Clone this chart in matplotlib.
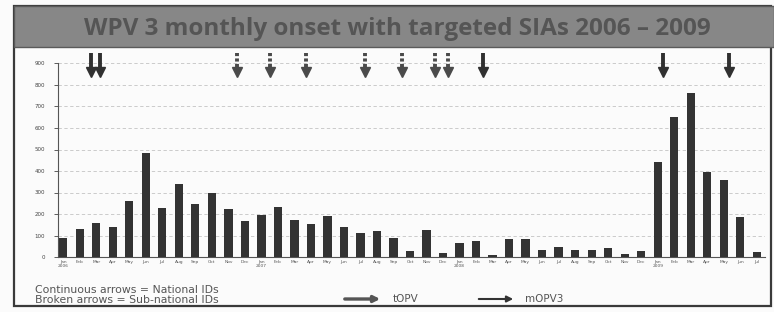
import matplotlib.pyplot as plt
from matplotlib.patches import Rectangle

# WPV3 cases by month of onset, Jan 2006 - Jul 2009
months = ['Jan', 'Feb', 'Mar', 'Apr', 'May', 'Jun',
          'Jul', 'Aug', 'Sep', 'Oct', 'Nov', 'Dec']
years = ['2006', '2007', '2008', '2009']
cases = [90, 132, 160, 138, 259, 482, 226, 340, 248, 298, 223, 166,
         197, 234, 172, 152, 192, 141, 110, 121, 88, 29, 126, 20,
         67, 74, 9, 84, 84, 33, 48, 33, 33, 40, 12, 28,
         442, 653, 761, 397, 358, 185, 23]

# SIA arrows (position in months from Jan 2006)
national_sia = [1.7, 2.2, 25.4, 36.3, 40.3]
subnational_sia = [10.5, 12.5, 14.7, 18.3, 20.5, 22.5, 23.3]

title = 'WPV 3 monthly onset with targeted SIAs 2006 \u2013 2009'
note1 = 'Continuous arrows = National IDs'
note2 = 'Broken arrows = Sub-national IDs'

W, H = 774, 312
fig = plt.figure(figsize=(W / 100, H / 100), dpi=100)
fig.patch.set_facecolor('#fbfbfb')

# frame + grey title band
fig.add_artist(Rectangle((14 / W, 6 / H), 757 / W, 300 / H, transform=fig.transFigure,
                         fill=False, edgecolor='#3a3a3a', lw=1.6))
fig.add_artist(Rectangle((14 / W, (H - 47) / H), 760 / W, 41 / H, transform=fig.transFigure,
                         facecolor='#878787', edgecolor='#5a5a5a', lw=1.0))
fig.text(397 / W, (H - 29) / H, title, ha='center', va='center', fontsize=17.5,
         fontweight='bold', color='#555555', family='Open Sans')

ax = fig.add_axes([57.5 / W, 55 / H, 707.5 / W, 206.4 / H])
ax.set_facecolor('none')
x = list(range(len(cases)))
ax.bar(x, cases, width=0.5, color='#333333', zorder=3)

ax.set_xlim(-0.35, 42.5)
ax.set_ylim(0, 960)
ax.set_yticks(range(0, 1000, 100))
ax.tick_params(axis='y', labelsize=4, length=3, width=0.6, colors='#444444', pad=6)
ax.yaxis.grid(True, color='#c4c4c4', linestyle=(0, (4, 3)), lw=0.6, zorder=0)

labels = []
for i in range(len(cases)):
    m = months[i % 12]
    if i % 12 == 0:
        labels.append(m + '\n' + years[i // 12])
    else:
        labels.append(m)
ax.set_xticks(x)
ax.set_xticklabels(labels, fontsize=3.2, color='#555555', linespacing=1.1)
ax.tick_params(axis='x', length=0, pad=2)

for s in ['top', 'right']:
    ax.spines[s].set_visible(False)
ax.spines['left'].set_bounds(0, 900)
ax.spines['left'].set_color('#555555')
ax.spines['left'].set_linewidth(0.8)
ax.spines['bottom'].set_color('#555555')
ax.spines['bottom'].set_linewidth(0.8)

# arrows at the top
for xs in national_sia:
    ax.plot([xs, xs], [950, 875], color='#303030', lw=2.8, solid_capstyle='butt',
            clip_on=False, zorder=4)
    ax.plot([xs], [862], marker='v', ms=6.5, color='#303030', clip_on=False, zorder=4)
for xs in subnational_sia:
    ax.plot([xs, xs], [950, 875], color='#4a4a4a', lw=2.8, linestyle=(0, (0.8, 0.6)),
            solid_capstyle='butt', dash_capstyle='butt', clip_on=False, zorder=4)
    ax.plot([xs], [862], marker='v', ms=6.5, color='#4a4a4a', clip_on=False, zorder=4)

# notes and legend
fig.text(35 / W, (H - 290) / H, note1, fontsize=7.8, color='#555555', va='center')
fig.text(35 / W, (H - 300) / H, note2, fontsize=7.8, color='#555555', va='center')

ax.annotate('', xy=(383 / W, (H - 299) / H), xytext=(342 / W, (H - 299) / H),
            xycoords='figure fraction',
            arrowprops=dict(arrowstyle='-|>', color='#555555', lw=2.4, mutation_scale=9))
fig.text(393 / W, (H - 299) / H, 'tOPV', fontsize=7.5, color='#555555', va='center')
ax.annotate('', xy=(516 / W, (H - 299) / H), xytext=(476 / W, (H - 299) / H),
            xycoords='figure fraction',
            arrowprops=dict(arrowstyle='-|>', color='#333333', lw=1.5, mutation_scale=9))
fig.text(525 / W, (H - 299) / H, 'mOPV3', fontsize=7.5, color='#555555', va='center')

fig.savefig('out.png', dpi=100)
